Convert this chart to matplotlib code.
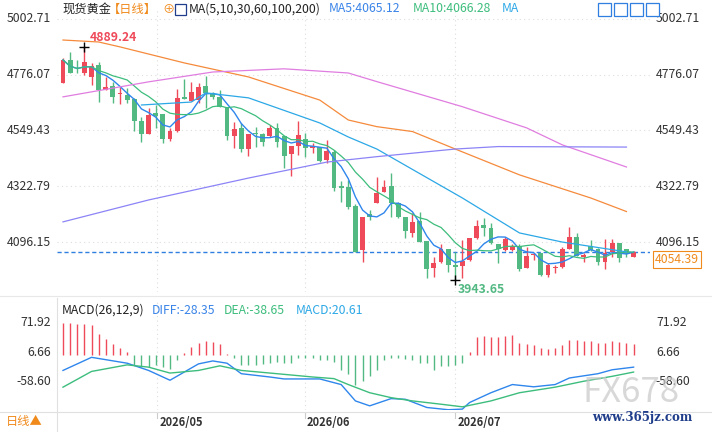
import numpy as np
import pandas as pd
import matplotlib
matplotlib.use("Agg")
import matplotlib.pyplot as plt

plt.rcParams['font.family'] = ['Noto Sans CJK SC', 'DejaVu Sans']

# 日K数据 (开, 收, 高, 低)
opens = [4741, 4836, 4785, 4782, 4768, 4816, 4714, 4732, 4696, 4694,
         4676, 4588, 4535, 4619, 4617, 4515, 4549, 4684, 4669, 4673,
         4730, 4703, 4684, 4646, 4528, 4558, 4473, 4538, 4534, 4528,
         4558, 4528, 4453, 4488, 4515, 4477, 4481, 4429, 4463, 4324,
         4321, 4243, 4064, 4212, 4256, 4301, 4324, 4253, 4199, 4134,
         4182, 4102, 3989, 4016, 4068, 4003, 3999, 4023, 4111, 4165,
         4152, 4088, 4064, 4064, 4081, 3992, 4045, 4050, 3962, 3992,
         3996, 4066, 4118, 4037, 4080, 4068, 4016, 4057, 4091, 4066, 4037]
closes = [4836, 4785, 4783, 4827, 4812, 4714, 4728, 4687, 4700, 4674,
          4589, 4535, 4612, 4608, 4515, 4549, 4680, 4676, 4707, 4728,
          4703, 4684, 4646, 4528, 4556, 4473, 4534, 4535, 4501, 4558,
          4501, 4447, 4486, 4531, 4477, 4486, 4427, 4466, 4317, 4317,
          4240, 4057, 4199, 4198, 4297, 4321, 4253, 4199, 4141, 4179,
          4098, 3987, 4010, 4068, 4003, 3996, 4019, 4111, 4161, 4155,
          4091, 4066, 4108, 4081, 3987, 4039, 4048, 3962, 4003, 3996,
          4066, 4115, 4039, 4043, 4064, 4016, 4050, 4091, 4033, 4047, 4054.39]
highs = [4843, 4867, 4836, 4889.24, 4823, 4827, 4766, 4748, 4728, 4724,
         4680, 4603, 4640, 4653, 4617, 4558, 4717, 4757, 4745, 4744,
         4771, 4707, 4714, 4646, 4585, 4579, 4534, 4562, 4538, 4572,
         4579, 4528, 4486, 4588, 4538, 4497, 4484, 4511, 4470, 4344,
         4348, 4250, 4199, 4225, 4362, 4348, 4375, 4260, 4199, 4213,
         4220, 4102, 4037, 4087, 4068, 4057, 4104, 4111, 4186, 4192,
         4175, 4088, 4115, 4088, 4088, 4077, 4053, 4053, 4010, 4003,
         4075, 4156, 4132, 4050, 4104, 4071, 4107, 4107, 4091, 4069, 4058]
lows = [4741, 4785, 4782, 4775, 4735, 4667, 4714, 4663, 4656, 4660,
        4549, 4504, 4535, 4558, 4497, 4508, 4542, 4676, 4669, 4660,
        4640, 4676, 4644, 4511, 4477, 4463, 4447, 4484, 4488, 4524,
        4481, 4396, 4364, 4450, 4443, 4457, 4423, 4419, 4304, 4260,
        4230, 4057, 4016, 4185, 4256, 4301, 4199, 4192, 4111, 4115,
        4098, 3951, 3955, 4010, 3976, 3943.65, 3951, 4019, 4107, 4121,
        4087, 4010, 4060, 4060, 3980, 3989, 4023, 3958, 3955, 3969,
        3992, 4066, 4039, 4014, 4061, 4003, 3987, 4037, 4014, 4037, 4034]

# 长周期均线 (读图, 第几根K线: 价格)
ma30_idx = [11, 18, 20, 26, 36, 40, 44, 56, 64, 70, 79]
ma30_val = [4653, 4665, 4702, 4682, 4580, 4523, 4474, 4275, 4133, 4096, 4056]
ma60_idx = [0, 5, 8, 17, 26, 36, 40, 44, 49, 55, 64, 74, 79]
ma60_val = [4917, 4909, 4889, 4824, 4767, 4673, 4592, 4565, 4545, 4474, 4369, 4275, 4220]
ma100_idx = [0, 12, 21, 31, 40, 44, 56, 65, 70, 79]
ma100_val = [4686, 4747, 4787, 4800, 4783, 4748, 4646, 4560, 4491, 4401]
ma200_idx = [0, 12, 26, 37, 44, 55, 61, 79]
ma200_val = [4178, 4267, 4356, 4421, 4443, 4474, 4484, 4482]

# MACD
macd_hist = [70.3, 70.3, 68.9, 68.9, 65.3, 47.1, 36.3, 25.4, 14.5, 7.3,
             -21.8, -25.4, -26.8, -21.8, -25.4, -31.2, -10.9,
             5.1, 18.1, 26.8, 31.2, 29.0, 23.9, 2.2,
             -7.3, -21.8, -21.8, -21.8, -19.6, -16.7, -14.5, -18.1, -18.1, -7.3,
             -7.3, -5.8, -10.9, -10.9, -14.5, -32.6, -42.1, -65.3, -58.0, -47.1,
             -32.6, -10.9, -5.8, -7.3, -9.4, -10.9, -16.7, -18.1, -32.6, -23.9,
             -23.9, -21.8, -18.1,
             7.3, 39.9, 41.3, 39.9, 39.9, 41.3, 43.5, 26.8, 25.4, 23.2,
             14.5, 12.3, 14.5, 21.8, 34.1, 32.6, 31.2, 31.2, 26.8, 26.8,
             31.2, 29.0, 26.8, 23.9]
diff_idx = [0, 4, 9, 12, 15, 19, 21, 23, 25, 29, 31, 36, 39, 41, 43, 46, 48,
            51, 54, 56, 57, 60, 63, 66, 69, 71, 75, 77, 80]
diff_val = [-34.1, -5.1, -18.1, -34.1, -55.8, -19.6, -13.1, -18.1, -41.3, -48.6,
            -52.9, -52.9, -65.3, -101.5, -112.4, -96.4, -97.9, -116, -121, -119.6,
            -105.1, -83.4, -65.3, -70.3, -65.3, -50.8, -41.3, -32.6, -26.8]
dea_idx = [0, 4, 9, 12, 15, 19, 22, 25, 30, 35, 38, 40, 43, 46, 49, 53, 56,
           60, 64, 69, 73, 77, 80]
dea_val = [-71.1, -36.3, -21.8, -26.8, -39.9, -34.1, -23.9, -34.1, -41.3, -48.6,
           -52.2, -65.3, -83.4, -94.3, -101.5, -108.8, -114.6, -101.5, -83.4,
           -71.1, -58.0, -47.1, -37.7]

price_ticks = [5002.71, 4776.07, 4549.43, 4322.79, 4096.15]
macd_ticks = [71.92, 6.66, -58.60]
month_idx = [13.2, 33.9, 55.0]
month_labels = ['2026/05', '2026/06', '2026/07']
last_price = 4054.39

RED = '#ee4a5a'
GREEN = '#52b983'
W, H = 712, 432
FS = 8.8

fig = plt.figure(figsize=(W / 100, H / 100), dpi=100)

def rect(x0, y0, x1, y1):
    return [x0 / W, 1 - y1 / H, (x1 - x0) / W, (y1 - y0) / H]

n = len(closes)
idx = np.arange(n)
xl = (-0.84, 82.3)

ax = fig.add_axes(rect(57, 10, 650, 292))
ax.set_xlim(*xl)
ax.set_ylim(3893, 5039)
for sp in ax.spines.values():
    sp.set_visible(False)
ax.set_xticks([]); ax.set_yticks([])
for t in price_ticks:
    ax.axhline(t, color='#dddddd', lw=0.8, ls=(0, (1, 3)))
    ax.text(-0.01, t, f'{t:.2f}', transform=ax.get_yaxis_transform(),
            ha='right', va='center', fontsize=FS, color='#333333')
    ax.text(1.01, t, f'{t:.2f}', transform=ax.get_yaxis_transform(),
            ha='left', va='center', fontsize=FS, color='#333333')
for m in month_idx:
    ax.axvline(m, color='#dddddd', lw=0.8, ls=(0, (1, 3)))

for i in range(n):
    c = RED if closes[i] >= opens[i] else GREEN
    ax.vlines(i, lows[i], highs[i], color=c, lw=1, zorder=3)
    lo, hi = sorted([opens[i], closes[i]])
    ax.bar(i, max(hi - lo, 2), bottom=lo, width=0.68, color=c, zorder=3, lw=0)

cs = pd.Series(closes)
ax.plot(idx, cs.rolling(5, min_periods=1).mean(), color='#2f86ec', lw=1, zorder=4)
ax.plot(idx, cs.rolling(10, min_periods=1).mean(), color='#3dbd7d', lw=0.9, zorder=4)
ax.plot(ma30_idx, ma30_val, color='#2ca8e6', lw=0.9, zorder=4)
ax.plot(ma60_idx, ma60_val, color='#f58a3c', lw=0.9, zorder=4)
ax.plot(ma100_idx, ma100_val, color='#e07de0', lw=0.9, zorder=4)
ax.plot(ma200_idx, ma200_val, color='#8c84f6', lw=0.9, zorder=4)

ax.axhline(last_price, color='#2f7fe0', lw=1, ls=(0, (3, 2)), zorder=2)
ax.text(1.008, last_price - 28, f'{last_price:.2f}', transform=ax.get_yaxis_transform(),
        ha='left', va='center', fontsize=FS, color='#f08a1c',
        bbox=dict(boxstyle='square,pad=0.15', fc='white', ec='#f08a1c', lw=0.8))
ax.plot(3, 4889.24, marker='+', color='black', ms=7, mew=1, zorder=5)
ax.text(3.8, 4900, '4889.24', color=RED, fontsize=FS, fontweight='bold', va='bottom')
ax.plot(55, 3943.65, marker='+', color='black', ms=7, mew=1, zorder=5)
ax.text(55.3, 3930, '3943.65', color=GREEN, fontsize=FS, fontweight='bold', va='top')

# 标题栏
ty = 1 - 9 / H
fig.text(62 / W, ty, '现货黄金', fontsize=FS, va='center', color='#222222')
fig.text(108 / W, ty, '【日线】', fontsize=FS, va='center', color='#f08a1c')
fig.text(162 / W, ty, '⊕', fontsize=FS, va='center', color='#f08a1c')
fig.patches.append(plt.Rectangle((175 / W, 1 - 15 / H), 11 / W, 11 / H,
                                 transform=fig.transFigure, fc='white', ec='#1f3d8a', lw=0.9))
fig.text(189 / W, ty, 'MA(5,10,30,60,100,200)', fontsize=FS, va='center', color='#222222')
fig.text(329 / W, ty, 'MA5:4065.12', fontsize=FS, va='center', color='#3a84e8')
fig.text(413 / W, ty, 'MA10:4066.28', fontsize=FS, va='center', color='#3dbd7d')
fig.text(502 / W, ty, 'MA', fontsize=FS, va='center', color='#2ca8e6')
for k in range(4):
    fig.patches.append(plt.Rectangle(((598 + k * 16) / W, 1 - 16 / H), 13 / W, 13 / H,
                                     transform=fig.transFigure, fc='white', ec='#2f7fe0', lw=0.9))

# MACD
ax2 = fig.add_axes(rect(57, 300, 650, 410))
ax2.set_xlim(*xl)
ax2.set_ylim(-121.6, 121.7)
for sp in ax2.spines.values():
    sp.set_visible(False)
ax2.set_xticks([]); ax2.set_yticks([])
for t in macd_ticks:
    ax2.text(-0.01, t, f'{t:.2f}', transform=ax2.get_yaxis_transform(),
             ha='right', va='center', fontsize=FS, color='#333333')
    ax2.text(1.01, t, f'{t:.2f}', transform=ax2.get_yaxis_transform(),
             ha='left', va='center', fontsize=FS, color='#333333', zorder=5)
for m in month_idx:
    ax2.axvline(m, color='#dddddd', lw=0.8, ls=(0, (1, 3)))
hcol = [RED if v >= 0 else GREEN for v in macd_hist]
ax2.vlines(idx, 0, macd_hist, colors=hcol, lw=1)
ax2.plot(diff_idx, diff_val, color='#2f86ec', lw=1)
ax2.plot(dea_idx, dea_val, color='#3dbd7d', lw=1)
my = 1 - 310 / H
fig.text(62 / W, my, 'MACD(26,12,9)', fontsize=FS, va='center', color='#222222')
fig.text(152 / W, my, 'DIFF:-28.35', fontsize=FS, va='center', color='#3a84e8')
fig.text(224 / W, my, 'DEA:-38.65', fontsize=FS, va='center', color='#3dbd7d')
fig.text(296 / W, my, 'MACD:20.61', fontsize=FS, va='center', color='#2ca8e6')

# 分隔线与日期
fig.add_artist(plt.Line2D([0, 1], [1 - 296 / H] * 2, color='#e8e8e8', lw=0.8))
fig.add_artist(plt.Line2D([0, 1], [1 - 412 / H] * 2, color='#e0e0e0', lw=0.8))
fig.add_artist(plt.Line2D([57 / W] * 2, [0, 1 - 298 / H], color='#e0e0e0', lw=0.8))
axd = fig.add_axes(rect(57, 412, 650, 432))
axd.set_xlim(*xl); axd.set_ylim(0, 1); axd.axis('off')
for m, lab in zip(month_idx, month_labels):
    axd.plot([m, m], [0.7, 1], color='#cccccc', lw=0.8)
    axd.text(m + 0.3, 0.45, lab, fontsize=8, fontweight='bold', va='center', color='#333333')
fig.text(6 / W, 1 - 422 / H, '日线▲', fontsize=FS, va='center', color='#f08a1c')

# 水印
fig.text(583 / W, 1 - 392 / H, 'FX678', fontsize=25, color='#c8c8c8', alpha=0.7, va='center')
fig.text(592 / W, 1 - 418 / H, 'www.365jz.com', fontsize=8.5, color='#1f3d8a',
         fontweight='bold', family='DejaVu Serif', va='center')

fig.savefig('out.png', dpi=100)
